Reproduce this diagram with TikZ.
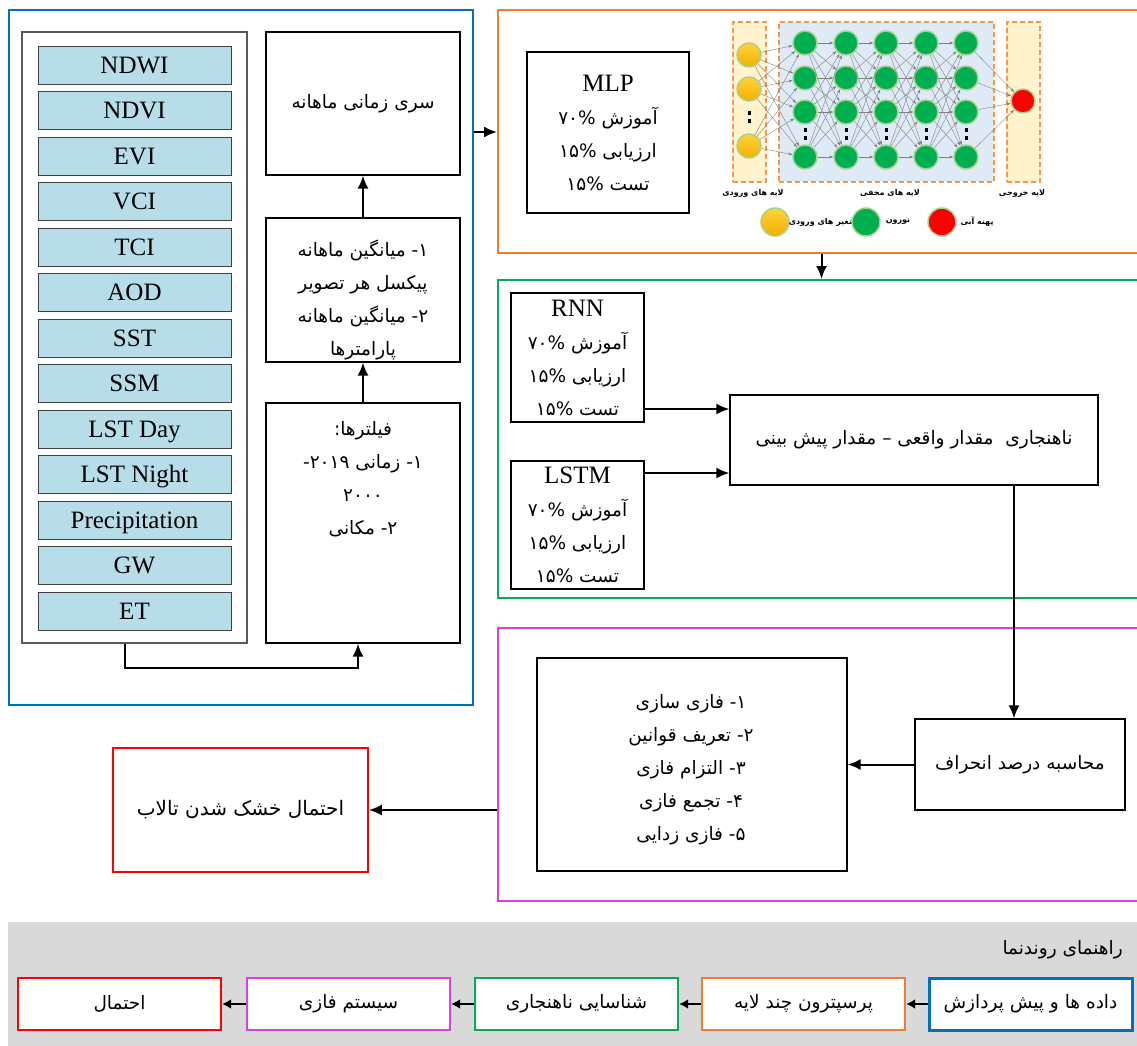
\documentclass[tikz,border=0pt]{standalone}
\usepackage{fontspec}
\setmainfont{Liberation Serif}
\newfontfamily\fa[Script=Arabic]{DejaVu Sans}
\TeXXeTstate=1
\usetikzlibrary{arrows.meta}
\definecolor{cblue}{RGB}{0,112,192}
\definecolor{corange}{RGB}{237,125,49}
\definecolor{cgreen}{RGB}{0,176,80}
\definecolor{cmag}{RGB}{226,60,222}
\definecolor{cred}{RGB}{255,0,0}
\definecolor{itemblue}{RGB}{183,221,232}
\definecolor{itemedge}{RGB}{64,64,64}
\definecolor{lstedge}{RGB}{89,89,89}
\definecolor{lgray}{RGB}{217,217,217}
\definecolor{nnyel}{RGB}{255,242,204}
\definecolor{nnblue}{RGB}{222,235,247}
\definecolor{nndash}{RGB}{247,150,70}
\definecolor{ngreen}{RGB}{0,176,80}
\definecolor{nglow}{RGB}{169,209,142}
\definecolor{nedge}{RGB}{128,128,128}
\definecolor{ytop}{RGB}{255,210,60}
\definecolor{ybot}{RGB}{242,176,0}
\newcommand\rl[1]{\hbox{\fa\beginR#1\endR}}
\newcommand\lt[1]{\hbox{#1}}
\newcommand\fs{\fontsize{18.5}{33}\selectfont}
\newcommand\fl{\fontsize{25}{33}\selectfont}
\begin{document}
\begin{tikzpicture}[x=1pt,y=-1pt,
  arr/.style={-{Latex[length=13pt,width=11pt]}, line width=2pt},
  larr/.style={-{Latex[length=9pt,width=10pt]}, line width=2.8pt},
  box/.style={draw=black, line width=1.2pt, inner sep=0pt},
  grp/.style={line width=2pt, inner sep=0pt},
  item/.style={draw=itemedge, line width=0.9pt, fill=itemblue, minimum width=193pt, minimum height=38pt, inner sep=0pt, text height=16.5pt, text depth=0pt, font=\fl},
  lbox/.style={draw, line width=2.4pt, fill=white, minimum width=203pt, minimum height=52pt, inner sep=0pt, font=\fs},
  layer/.style={draw=nndash, line width=1.6pt, dash pattern=on 5pt off 3pt, inner sep=0pt, minimum height=160pt},
  neuron/.style={circle, fill=ngreen, draw=nglow, line width=1.5pt, minimum size=24pt, inner sep=0pt},
  inneuron/.style={circle, top color=ytop, bottom color=ybot, draw=nglow, line width=1.5pt, minimum size=24pt, inner sep=0pt},
  outneuron/.style={circle, fill=cred, draw=nglow, line width=1.5pt, minimum size=24pt, inner sep=0pt},
  nnedge/.style={draw=nedge, line width=0.4pt, -{Stealth[length=4pt,width=3pt]}},
  nnlab/.style={font=\fa\bfseries\fontsize{8}{10}\selectfont, inner sep=0pt}
]
\useasboundingbox (0,0) rectangle (1137,1046);

% ---------- group 1: data and preprocessing
\node[grp, draw=cblue, minimum width=464pt, minimum height=695pt] (g1) at (241,357.5) {};
\node[box, draw=lstedge, line width=1.2pt, minimum width=225pt, minimum height=611pt] (lst) at (134.5,337.5) {};
\foreach \t [count=\i from 0] in {NDWI,NDVI,EVI,VCI,TCI,AOD,SST,SSM,LST Day,LST Night,Precipitation,GW,ET}
  \node[item] (it\i) at (134.5,{65+45.5*\i}) {\t};

\node[box, minimum width=194pt, minimum height=143pt, font=\fs] (b1) at (363,103.5) {\rl{سری زمانی ماهانه}};
\node[box, minimum width=194pt, minimum height=144pt] (b2) at (363,290) {};
\node[align=center, font=\fs, inner sep=0pt] (t2) at (363,300) {\rl{\lt{۱}\lt{-} میانگین ماهانه}\\\rl{پیکسل هر تصویر}\\\rl{\lt{۲}\lt{-} میانگین ماهانه}\\\rl{پارامترها}};
\node[box, minimum width=194pt, minimum height=240pt] (b3) at (363,523) {};
\node[align=center, font=\fs, inner sep=0pt] (t3) at (363,479) {\rl{فیلترها\lt{:}}\\\rl{\lt{۱}\lt{-} زمانی \lt{۲۰۱۹}\lt{-}}\\\rl{\lt{۲۰۰۰}}\\\rl{\lt{۲}\lt{-} مکانی}};

\draw[arr] (b2.north) -- (b1.south);
\draw[arr] (b3.north) -- (b2.south);
\draw[arr] ([xshift=-9.5pt]lst.south) -- ++(0,24) -| ([xshift=-5pt]b3.south);

% ---------- group 2: MLP
\node[grp, draw=corange, minimum width=647pt, minimum height=243pt] (g2) at (821.5,131.5) {};
\draw[arr] (g1.east |- 0,132) -- (g2.west |- 0,132);
\node[box, minimum width=162pt, minimum height=161pt, align=center, font=\fs] (mlp) at (608,132.5)
  {{\fl MLP}\\\rl{آموزش \lt{۷۰\%}}\\\rl{ارزیابی \lt{۱۵\%}}\\\rl{تست \lt{۱۵\%}}};

% neural network sketch
\node[layer, fill=nnyel, minimum width=33pt] (inl) at (749.5,102) {};
\node[layer, fill=nnblue, minimum width=215pt] (hidl) at (886.5,102) {};
\node[layer, fill=nnyel, minimum width=33pt] (outl) at (1023.5,102) {};
\foreach \r/\y in {1/55,2/89,3/146} \node[inneuron] (i\r) at (749,\y) {};
\foreach \c/\x in {1/805,2/846,3/886,4/926,5/966}{
  \foreach \r/\y in {1/43,2/78,3/112,4/157}
    \node[neuron] (h\c\r) at (\x,\y) {};
}
\node[outneuron] (o) at (1023,101) {};
\foreach \a in {1,2,3} \foreach \b in {1,2,3,4} \draw[nnedge] (i\a) -- (h1\b);
\foreach \c/\d in {1/2,2/3,3/4,4/5} \foreach \a in {1,2,3,4} \foreach \b in {1,2,3,4} \draw[nnedge] (h\c\a) -- (h\d\b);
\foreach \a in {1,2,3,4} \draw[nnedge] (h5\a) -- (o);
\fill (747.5,111) rectangle ++(3,4);
\fill (747.5,119) rectangle ++(3,4);
\foreach \x in {805,846,886,926,966}{
  \fill (\x-1.5,128) rectangle ++(3,4);
  \fill (\x-1.5,136) rectangle ++(3,4);
}
\node[nnlab] (lin) at (753,193) {\rl{لایه های ورودی}};
\node[nnlab] (lhid) at (890,193) {\rl{لایه های مخفی}};
\node[nnlab] (lout) at (1022,193) {\rl{لایه خروجی}};
\node[inneuron, minimum size=28pt] (ky) at (775,222) {};
\node[nnlab] (kyt) at (823,222) {\rl{متغیر های ورودی}};
\node[neuron, minimum size=28pt] (kg) at (866,222) {};
\node[nnlab] (kgt) at (898,222) {\rl{نورون}};
\node[outneuron, minimum size=28pt] (kr) at (942,222) {};
\node[nnlab] (krt) at (977,222) {\rl{پهنه آبی}};

% ---------- group 3: anomaly
\node[grp, draw=cgreen, minimum width=647pt, minimum height=318pt] (g3) at (821.5,439) {};
\draw[arr] (g2.south) -- (g3.north);
\node[box, minimum width=133pt, minimum height=129pt, align=center, font=\fs] (rnn) at (577.5,357.5)
  {{\fl RNN}\\\rl{آموزش \lt{۷۰\%}}\\\rl{ارزیابی \lt{۱۵\%}}\\\rl{تست \lt{۱۵\%}}};
\node[box, minimum width=133pt, minimum height=128pt, align=center, font=\fs] (lstm) at (577.5,525)
  {{\fl LSTM}\\\rl{آموزش \lt{۷۰\%}}\\\rl{ارزیابی \lt{۱۵\%}}\\\rl{تست \lt{۱۵\%}}};
\node[box, minimum width=368pt, minimum height=90pt, font=\fs] (anom) at (914,440)
  {\rl{ناهنجاری\ \ مقدار واقعی – مقدار پیش بینی}};
\draw[arr] (rnn.east |- 0,409) -- (anom.west |- 0,409);
\draw[arr] (lstm.east |- 0,473) -- (anom.west |- 0,473);

% ---------- group 4: fuzzy
\node[grp, draw=cmag, minimum width=647pt, minimum height=273pt] (g4) at (821.5,764.5) {};
\node[box, minimum width=310pt, minimum height=213pt] (fuzzy) at (692,764.5) {};
\node[align=center, font=\fs, inner sep=0pt] (tf) at (691,770)
  {\rl{\lt{۱}\lt{-} فازی سازی}\\\rl{\lt{۲}\lt{-} تعریف قوانین}\\\rl{\lt{۳}\lt{-} التزام فازی}\\\rl{\lt{۴}\lt{-} تجمع فازی}\\\rl{\lt{۵}\lt{-} فازی زدایی}};
\node[box, minimum width=210pt, minimum height=91pt, font=\fs] (dev) at (1020,764.5) {\rl{محاسبه درصد انحراف}};
\draw[arr] ([xshift=100pt]anom.south) -- ([xshift=100pt]anom.south |- dev.north);
\draw[arr] (dev.west) -- (fuzzy.east);

% ---------- result
\node[box, draw=cred, line width=1.6pt, minimum width=255pt, minimum height=124pt, font=\fontsize{20}{24}\selectfont] (res) at (240.5,810) {\rl{احتمال خشک شدن تالاب}};
\draw[arr] (g4.west |- res.east) -- (res.east);

% ---------- legend
\node[fill=lgray, minimum width=1140pt, minimum height=124pt, inner sep=0pt] (leg) at (578,984) {};
\node[anchor=east, font=\fs, inner sep=0pt] (legt) at (1123,950) {\rl{راهنمای روندنما}};
\node[lbox, draw=cblue, line width=3pt] (l1) at (1030.5,1004) {\rl{داده ها و پیش پردازش}};
\node[lbox, draw=corange] (l2) at (803.5,1004) {\rl{پرسپترون چند لایه}};
\node[lbox, draw=cgreen] (l3) at (576.5,1004) {\rl{شناسایی ناهنجاری}};
\node[lbox, draw=cmag] (l4) at (348.5,1004) {\rl{سیستم فازی}};
\node[lbox, draw=cred] (l5) at (119.5,1004) {\rl{احتمال}};
\draw[larr] (l1) -- (l2);
\draw[larr] (l2) -- (l3);
\draw[larr] (l3) -- (l4);
\draw[larr] (l4) -- (l5);
\end{tikzpicture}
\end{document}
